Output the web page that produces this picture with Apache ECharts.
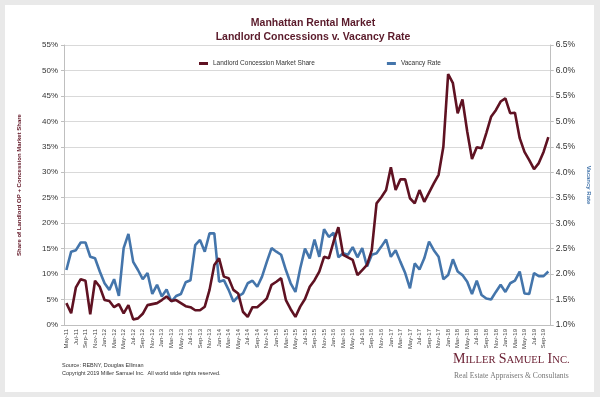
<!DOCTYPE html>
<html>
<head>
<meta charset="utf-8">
<script src="https://cdn.jsdelivr.net/npm/echarts@6/dist/echarts.min.js"></script>
<style>
  html, body { margin: 0; padding: 0; background: #e9e9e9; }
  #card { position: absolute; left: 5px; top: 5px; width: 589px; height: 387px; background: #fff; }
  #chart37 { position: absolute; left: 0; top: 0; width: 600px; height: 397px; }
</style>
</head>
<body>
<div id="card"></div>
<div id="chart37"></div>
<script>
// monthly, May-11 .. Oct-19
var months = [
  'May-11','Jun-11','Jul-11','Aug-11','Sep-11','Oct-11','Nov-11','Dec-11',
  'Jan-12','Feb-12','Mar-12','Apr-12','May-12','Jun-12','Jul-12','Aug-12','Sep-12','Oct-12','Nov-12','Dec-12',
  'Jan-13','Feb-13','Mar-13','Apr-13','May-13','Jun-13','Jul-13','Aug-13','Sep-13','Oct-13','Nov-13','Dec-13',
  'Jan-14','Feb-14','Mar-14','Apr-14','May-14','Jun-14','Jul-14','Aug-14','Sep-14','Oct-14','Nov-14','Dec-14',
  'Jan-15','Feb-15','Mar-15','Apr-15','May-15','Jun-15','Jul-15','Aug-15','Sep-15','Oct-15','Nov-15','Dec-15',
  'Jan-16','Feb-16','Mar-16','Apr-16','May-16','Jun-16','Jul-16','Aug-16','Sep-16','Oct-16','Nov-16','Dec-16',
  'Jan-17','Feb-17','Mar-17','Apr-17','May-17','Jun-17','Jul-17','Aug-17','Sep-17','Oct-17','Nov-17','Dec-17',
  'Jan-18','Feb-18','Mar-18','Apr-18','May-18','Jun-18','Jul-18','Aug-18','Sep-18','Oct-18','Nov-18','Dec-18',
  'Jan-19','Feb-19','Mar-19','Apr-19','May-19','Jun-19','Jul-19','Aug-19','Sep-19','Oct-19'
];

// share of landlord OP + concession (%)
var concessionShare = [
  4.3, 2.3, 7.4, 9.0, 8.7, 2.1, 8.7, 7.5,
  4.9, 4.7, 3.5, 4.1, 2.3, 3.9, 1.1, 1.3, 2.2, 3.9, 4.1, 4.3,
  4.9, 5.6, 4.7, 4.9, 4.3, 3.7, 3.5, 2.9, 2.9, 3.6, 6.9, 11.8,
  13.1, 9.5, 9.2, 6.9, 6.2, 2.6, 1.6, 3.5, 3.5, 4.3, 5.2, 7.9,
  8.5, 9.2, 4.9, 3.1, 1.6, 3.6, 5.1, 7.5, 8.8, 10.5, 13.4, 13.1,
  16.4, 19.2, 13.8, 13.3, 12.8, 9.8, 10.8, 11.8, 14.7, 23.9, 25.1, 26.5,
  31.0, 26.5, 28.6, 28.6, 24.9, 23.9, 26.5, 24.2, 26.0, 27.8, 29.5, 35.0,
  49.3, 47.5, 41.6, 44.3, 38.0, 32.6, 34.9, 34.7, 37.7, 40.9, 42.2, 43.9,
  44.5, 41.6, 41.7, 36.7, 34.0, 32.4, 30.6, 31.8, 34.0, 36.9
];

// vacancy rate (%)
var vacancyRate = [
  2.08, 2.44, 2.47, 2.62, 2.62, 2.34, 2.31, 2.05,
  1.82, 1.69, 1.90, 1.57, 2.51, 2.79, 2.24, 2.08, 1.90, 2.02, 1.61, 1.79,
  1.56, 1.70, 1.46, 1.57, 1.61, 1.84, 1.88, 2.57, 2.67, 2.44, 2.80, 2.80,
  1.85, 1.88, 1.69, 1.46, 1.56, 1.62, 1.82, 1.87, 1.75, 1.95, 2.24, 2.51,
  2.44, 2.38, 2.08, 1.82, 1.65, 2.11, 2.50, 2.31, 2.68, 2.34, 2.88, 2.73,
  2.81, 2.33, 2.41, 2.38, 2.53, 2.33, 2.51, 2.15, 2.38, 2.41, 2.54, 2.68,
  2.34, 2.47, 2.24, 2.02, 1.72, 2.21, 2.09, 2.31, 2.64, 2.47, 2.34, 1.90,
  1.98, 2.29, 2.05, 1.98, 1.85, 1.61, 1.87, 1.59, 1.52, 1.50, 1.65, 1.79,
  1.65, 1.82, 1.87, 2.05, 1.62, 1.61, 2.02, 1.96, 1.96, 2.05
];

var maroon = '#5f1222';
var blue = '#4475ab';
var font = 'Liberation Sans';

var myChart = echarts.init(document.getElementById('chart37'));
var option = {
    animation: false,
    title: {
        text: 'Manhattan Rental Market\nLandlord Concessions v. Vacancy Rate',
        left: 308,
        top: 11,
        textAlign: 'center',
        textStyle: {
            color: '#5a1a2a',
            fontFamily: font,
            fontWeight: 'bold',
            fontSize: 10.5,
            lineHeight: 14
        }
    },
    legend: {
        data: ['Landlord Concession Market Share', 'Vacancy Rate'],
        left: 194,
        top: 55,
        icon: 'rect',
        itemWidth: 9,
        itemHeight: 3,
        itemGap: 72,
        textStyle: { fontFamily: font, fontSize: 6.5, color: '#333' }
    },
    grid: { left: 64, right: 37, top: 45, bottom: 72 },
    xAxis: {
        type: 'category',
        data: months,
        boundaryGap: true,
        axisLine: { lineStyle: { color: '#bfbfbf' } },
        axisTick: { show: false },
        axisLabel: {
            interval: 1,
            rotate: 90,
            fontFamily: font,
            fontSize: 6,
            color: '#444',
            margin: 4,
            hideOverlap: false
        }
    },
    yAxis: [
        {
            type: 'value',
            min: 0,
            max: 55,
            interval: 5,
            name: 'Share of Landlord OP + Concession Market Share',
            nameLocation: 'middle',
            nameRotate: 90,
            nameGap: 42,
            nameTextStyle: { color: maroon, fontFamily: font, fontWeight: 'bold', fontSize: 6 },
            axisLine: { show: true, lineStyle: { color: '#bfbfbf' } },
            axisTick: { show: true, length: 3, lineStyle: { color: '#bfbfbf' } },
            axisLabel: { formatter: '{value}%', fontFamily: font, fontSize: 8, color: '#333', margin: 6 },
            splitLine: { lineStyle: { color: '#d9d9d9', width: 1 } }
        },
        {
            type: 'value',
            min: 1,
            max: 6.5,
            interval: 0.5,
            name: 'Vacancy Rate',
            nameLocation: 'middle',
            nameRotate: -90,
            nameGap: 30,
            nameTextStyle: { color: blue, fontFamily: font, fontWeight: 'bold', fontSize: 6 },
            axisLine: { show: true, lineStyle: { color: '#bfbfbf' } },
            axisTick: { show: true, length: 3, lineStyle: { color: '#bfbfbf' } },
            axisLabel: {
                formatter: function (v) { return v.toFixed(1) + '%'; },
                fontFamily: font, fontSize: 8.5, color: '#333', margin: 5
            },
            splitLine: { show: false }
        }
    ],
    series: [
        {
            name: 'Landlord Concession Market Share',
            type: 'line',
            yAxisIndex: 0,
            data: concessionShare,
            symbol: 'none',
            color: maroon,
            lineStyle: { color: maroon, width: 2.6 },
            z: 3
        },
        {
            name: 'Vacancy Rate',
            type: 'line',
            yAxisIndex: 1,
            data: vacancyRate,
            symbol: 'none',
            color: blue,
            lineStyle: { color: blue, width: 2.6 },
            z: 2
        }
    ],
    graphic: [
        {
            type: 'text', left: 62, top: 362,
            style: { text: 'Source: REBNY, Douglas Elliman', fontFamily: font, fontSize: 5.5, fill: '#333' }
        },
        {
            type: 'text', left: 62, top: 370,
            style: { text: 'Copyright 2019 Miller Samuel Inc.  All world wide rights reserved.', fontFamily: font, fontSize: 5.5, fill: '#333' }
        },
        {
            type: 'text', left: 453, top: 352,
            style: {
                text: '{b|M}{s|ILLER} {b|S}{s|AMUEL} {b|I}{s|NC.}',
                fill: '#6b2033',
                rich: {
                    b: { fontFamily: 'Liberation Serif', fontSize: 14, fill: '#6b2033', verticalAlign: 'bottom' },
                    s: { fontFamily: 'Liberation Serif', fontSize: 10.6, fill: '#6b2033', verticalAlign: 'bottom' }
                }
            }
        },
        {
            type: 'text', left: 454, top: 372,
            style: { text: 'Real Estate Appraisers & Consultants', fontFamily: 'Liberation Serif', fontSize: 7.6, fill: '#777' }
        }
    ]
};
myChart.setOption(option);
</script>
</body>
</html>
